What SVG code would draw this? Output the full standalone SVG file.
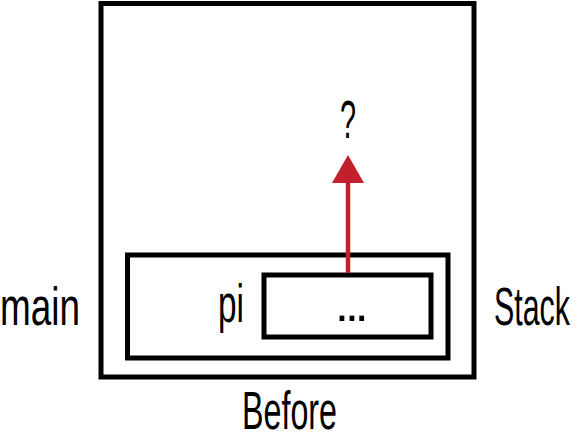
<svg xmlns="http://www.w3.org/2000/svg" width="577" height="441" viewBox="0 0 577 441">
<defs>
<style>
.box{fill:none;stroke:#000;stroke-width:5}
.lbl{font-family:"Liberation Sans Narrow","Liberation Sans",Arial,sans-serif;font-size:54px;fill:#000}
.arrow{stroke:#c3202e;stroke-width:4.5;fill:none}
</style>
</defs>
<g id="stack">
<rect class="box" x="101" y="3.5" width="373" height="373.5"/>
<text class="lbl" x="570" y="325" text-anchor="end" textLength="76" lengthAdjust="spacingAndGlyphs">Stack</text>
<text class="lbl" x="242" y="429" textLength="95" lengthAdjust="spacingAndGlyphs">Before</text>
</g>
<g id="main">
<rect class="box" x="127.5" y="255" width="320.5" height="103"/>
<text class="lbl" x="0" y="325" textLength="80" lengthAdjust="spacingAndGlyphs">main</text>
</g>
<g id="pi">
<rect class="box" x="264" y="275" width="167" height="62"/>
<text class="lbl" x="218" y="322" textLength="26" lengthAdjust="spacingAndGlyphs">pi</text>
<text class="lbl" x="335" y="321" style="letter-spacing:-4px;font-size:50px">...</text>
</g>
<g id="unknown">
<text class="lbl" x="340" y="138" textLength="16" lengthAdjust="spacingAndGlyphs">?</text>
</g>
<g id="connectors">
<line class="arrow" x1="348" y1="273" x2="348" y2="182"/>
<path d="M332,183 L348,155 L364,183 Z" fill="#c3202e"/>
</g>
</svg>
